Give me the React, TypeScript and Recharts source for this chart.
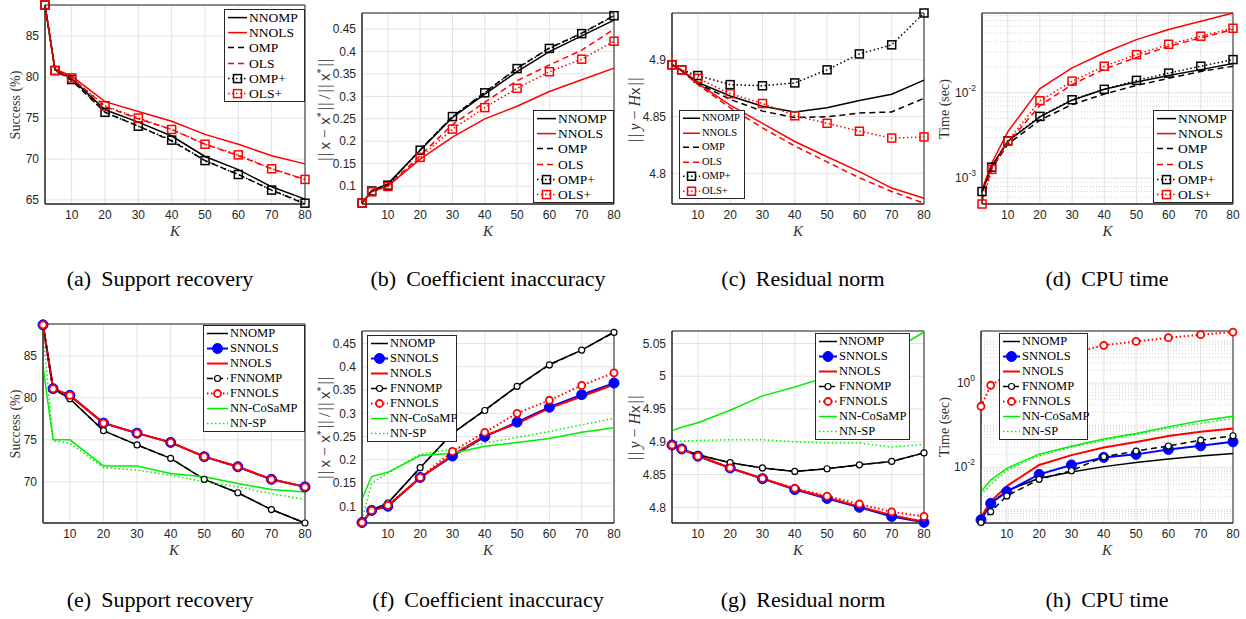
import React from 'react';
import { LineChart, Line, XAxis, YAxis, CartesianGrid, ReferenceLine, ReferenceArea } from 'recharts';

const SERIF = '"Liberation Serif", "Times New Roman", serif';
const SANS = '"Liberation Sans", Arial, sans-serif';
const AXIS = '#262626';
const GRID = '#e2e2e2';
const MINOR = '#d2d2d2';

const K = [2, 5, 10, 20, 30, 40, 50, 60, 70, 80];
const K_TICKS = [10, 20, 30, 40, 50, 60, 70, 80];

// ---- row 1: greedy variants ----
const succA: Record<string, number[]> = {
  NNOMP: [88.8, 80.9, 79.8, 76.0, 74.5, 72.8, 70.3, 68.7, 66.6, 65.1],
  NNOLS: [88.8, 81.0, 80.1, 77.0, 75.8, 74.6, 73.0, 71.8, 70.4, 69.4],
  OMP: [88.8, 80.8, 79.6, 75.7, 74.0, 72.2, 69.8, 68.1, 66.2, 64.5],
  OLS: [88.8, 80.8, 79.9, 76.4, 74.9, 73.6, 71.8, 70.4, 68.8, 67.5],
  OMPp: [88.8, 80.8, 79.7, 75.7, 74.0, 72.3, 69.8, 68.1, 66.2, 64.6],
  OLSp: [88.8, 80.8, 79.9, 76.5, 75.0, 73.6, 71.8, 70.5, 68.8, 67.5],
};
const errB: Record<string, number[]> = {
  NNOMP: [0.062, 0.09, 0.105, 0.18, 0.253, 0.305, 0.355, 0.4, 0.435, 0.47],
  NNOLS: [0.062, 0.088, 0.1, 0.16, 0.209, 0.25, 0.278, 0.311, 0.337, 0.363],
  OMP: [0.062, 0.09, 0.103, 0.181, 0.255, 0.309, 0.363, 0.408, 0.441, 0.48],
  OLS: [0.062, 0.088, 0.1, 0.168, 0.237, 0.287, 0.335, 0.37, 0.403, 0.45],
  OMPp: [0.062, 0.089, 0.102, 0.18, 0.255, 0.308, 0.362, 0.407, 0.44, 0.48],
  OLSp: [0.062, 0.087, 0.099, 0.164, 0.227, 0.275, 0.318, 0.355, 0.383, 0.423],
};
const resC: Record<string, number[]> = {
  NNOMP: [4.8955, 4.8906, 4.88, 4.868, 4.859, 4.854, 4.8576, 4.864, 4.8696, 4.882],
  NNOLS: [4.8955, 4.89, 4.879, 4.86, 4.844, 4.828, 4.8146, 4.8015, 4.787, 4.778],
  OMP: [4.8955, 4.89, 4.879, 4.865, 4.8547, 4.849, 4.8497, 4.853, 4.854, 4.866],
  OLS: [4.8955, 4.89, 4.878, 4.8576, 4.84, 4.824, 4.81, 4.796, 4.784, 4.7737],
  OMPp: [4.8955, 4.891, 4.886, 4.878, 4.877, 4.8795, 4.891, 4.905, 4.913, 4.941],
  OLSp: [4.8955, 4.891, 4.8836, 4.87, 4.8614, 4.8506, 4.844, 4.837, 4.831, 4.832],
};
const timeD: Record<string, number[]> = {
  NNOMP: [6.8e-4, 1.39e-3, 2.7e-3, 5.24e-3, 8.2e-3, 0.011, 0.0134, 0.016, 0.0187, 0.022],
  NNOLS: [7.3e-4, 1.5e-3, 3.5e-3, 0.0112, 0.0196, 0.0295, 0.042, 0.055, 0.069, 0.086],
  OMP: [7e-4, 1.3e-3, 2.5e-3, 4.8e-3, 7.3e-3, 9.7e-3, 0.0122, 0.0148, 0.0178, 0.0205],
  OLS: [5.5e-4, 1.3e-3, 2.6e-3, 7.1e-3, 0.0125, 0.019, 0.026, 0.035, 0.044, 0.055],
  OMPp: [7e-4, 1.35e-3, 2.75e-3, 5.3e-3, 8.3e-3, 0.011, 0.014, 0.017, 0.0205, 0.0245],
  OLSp: [5e-4, 1.27e-3, 2.73e-3, 8.07e-3, 0.0137, 0.0205, 0.028, 0.037, 0.046, 0.057],
};

// ---- row 2: NN solvers ----
const succE: Record<string, number[]> = {
  NNOMP: [88.7, 81.1, 79.9, 76.1, 74.4, 72.8, 70.3, 68.7, 66.7, 65.1],
  SNNOLS: [88.7, 81.1, 80.3, 77.0, 75.8, 74.7, 73.0, 71.8, 70.3, 69.4],
  NNOLS: [88.7, 81.1, 80.3, 77.0, 75.8, 74.7, 73.0, 71.8, 70.3, 69.4],
  FNNOMP: [88.7, 81.1, 79.9, 76.1, 74.4, 72.8, 70.3, 68.7, 66.7, 65.1],
  FNNOLS: [88.7, 81.1, 80.3, 77.0, 75.8, 74.7, 73.0, 71.8, 70.3, 69.4],
  CoSaMP: [83.7, 75.0, 75.0, 71.9, 71.9, 71.0, 70.6, 69.8, 69.1, 68.8],
  SP: [88.0, 74.9, 74.6, 71.7, 71.4, 70.8, 70.0, 69.4, 68.6, 67.9],
};
const errF: Record<string, number[]> = {
  NNOMP: [0.065, 0.091, 0.107, 0.183, 0.257, 0.307, 0.358, 0.405, 0.436, 0.475],
  SNNOLS: [0.065, 0.091, 0.1, 0.162, 0.208, 0.25, 0.281, 0.313, 0.34, 0.365],
  NNOLS: [0.065, 0.091, 0.101, 0.161, 0.21, 0.252, 0.278, 0.311, 0.336, 0.362],
  FNNOMP: [0.065, 0.092, 0.107, 0.183, 0.257, 0.306, 0.358, 0.404, 0.436, 0.474],
  FNNOLS: [0.065, 0.091, 0.102, 0.162, 0.218, 0.259, 0.3, 0.328, 0.36, 0.387],
  CoSaMP: [0.116, 0.164, 0.173, 0.209, 0.214, 0.229, 0.237, 0.246, 0.259, 0.269],
  SP: [0.071, 0.15, 0.171, 0.212, 0.223, 0.236, 0.248, 0.261, 0.275, 0.289],
};
const resG: Record<string, number[]> = {
  NNOMP: [4.895, 4.889, 4.88, 4.868, 4.86, 4.8547, 4.8588, 4.8648, 4.87, 4.883],
  SNNOLS: [4.895, 4.889, 4.878, 4.86, 4.8437, 4.827, 4.8135, 4.8, 4.786, 4.777],
  NNOLS: [4.895, 4.889, 4.879, 4.86, 4.844, 4.828, 4.815, 4.801, 4.788, 4.778],
  FNNOMP: [4.895, 4.889, 4.88, 4.868, 4.86, 4.8547, 4.8588, 4.8648, 4.87, 4.883],
  FNNOLS: [4.895, 4.889, 4.878, 4.86, 4.844, 4.829, 4.817, 4.805, 4.793, 4.786],
  CoSaMP: [4.917, 4.922, 4.929, 4.948, 4.97, 4.9835, 4.999, 5.015, 5.038, 5.0675],
  SP: [4.899, 4.901, 4.902, 4.903, 4.903, 4.9, 4.898, 4.898, 4.892, 4.896],
};
const timeH: Record<string, number[]> = {
  NNOMP: [5.5e-4, 1.4e-3, 2.8e-3, 5.5e-3, 7.8e-3, 0.0104, 0.0131, 0.0157, 0.0185, 0.0214],
  SNNOLS: [5.7e-4, 1.4e-3, 2.66e-3, 6.8e-3, 0.0114, 0.0172, 0.0203, 0.0266, 0.0324, 0.0404],
  NNOLS: [6.6e-4, 1.55e-3, 3.6e-3, 0.0114, 0.0195, 0.0296, 0.04, 0.055, 0.07, 0.083],
  FNNOMP: [4.9e-4, 8.9e-4, 2.1e-3, 5.2e-3, 8.3e-3, 0.0178, 0.0243, 0.032, 0.044, 0.056],
  FNNOLS: [0.28, 0.88, 1.5, 3.0, 5.0, 7.8, 9.6, 11.8, 13.9, 16.0],
  CoSaMP: [0.00266, 0.005, 0.0095, 0.0206, 0.0317, 0.0467, 0.0635, 0.091, 0.127, 0.163],
  SP: [0.0022, 0.004, 0.0085, 0.019, 0.03, 0.044, 0.06, 0.085, 0.11, 0.144],
};

const MINOR_D = [6e-4, 7e-4, 8e-4, 9e-4, 2e-3, 3e-3, 4e-3, 5e-3, 6e-3, 7e-3, 8e-3, 9e-3, 0.02, 0.03, 0.04, 0.05, 0.06, 0.07, 0.08];
const MINOR_H = [
  5e-4, 6e-4, 7e-4, 8e-4, 9e-4, 1e-3, 2e-3, 3e-3, 4e-3, 5e-3, 6e-3, 7e-3, 8e-3, 9e-3,
  0.02, 0.03, 0.04, 0.05, 0.06, 0.07, 0.08, 0.09, 0.1, 0.2, 0.3, 0.4, 0.5, 0.6, 0.7, 0.8, 0.9,
  2, 3, 4, 5, 6, 7, 8, 9, 10,
];

type Mark = 'square' | 'disc' | 'ring';
interface Style {
  id: string;
  label: string;
  color: string;
  width: number;
  dash?: string;
  marker?: Mark;
  r?: number;
  mw?: number;
}

const RED = '#ff0000';
const BLUE = '#0000ff';
const GREEN = '#00ee00';
const DASH = '6 4';
const DOT = '1.5 2.5';

const STYLES1: Style[] = [
  { id: 'NNOMP', label: 'NNOMP', color: '#000', width: 1.5 },
  { id: 'NNOLS', label: 'NNOLS', color: RED, width: 1.5 },
  { id: 'OMP', label: 'OMP', color: '#000', width: 1.5, dash: DASH },
  { id: 'OLS', label: 'OLS', color: RED, width: 1.5, dash: DASH },
  { id: 'OMPp', label: 'OMP+', color: '#000', width: 1.5, dash: DOT, marker: 'square' },
  { id: 'OLSp', label: 'OLS+', color: RED, width: 1.5, dash: DOT, marker: 'square' },
];
const STYLES2: Style[] = [
  { id: 'NNOMP', label: 'NNOMP', color: '#000', width: 1.5 },
  { id: 'SNNOLS', label: 'SNNOLS', color: BLUE, width: 2, marker: 'disc', r: 5 },
  { id: 'NNOLS', label: 'NNOLS', color: RED, width: 2 },
  { id: 'FNNOMP', label: 'FNNOMP', color: '#000', width: 1.5, dash: DASH, marker: 'ring', r: 3, mw: 1.2 },
  { id: 'FNNOLS', label: 'FNNOLS', color: RED, width: 2, dash: DOT, marker: 'ring', r: 3.5, mw: 1.8 },
  { id: 'CoSaMP', label: 'NN-CoSaMP', color: GREEN, width: 1.5 },
  { id: 'SP', label: 'NN-SP', color: GREEN, width: 1.5, dash: DOT },
];

const toRows = (set: Record<string, number[]>) =>
  K.map((k, i) => {
    const r: Record<string, number> = { K: k };
    Object.keys(set).forEach((n) => (r[n] = set[n][i]));
    return r;
  });

function Marker({ s, cx, cy }: { s: Style; cx: number; cy: number }) {
  if (s.marker === 'square')
    return <rect x={cx - 4} y={cy - 4} width={8} height={8} fill="none" stroke={s.color} strokeWidth={1.5} />;
  if (s.marker === 'disc') return <circle cx={cx} cy={cy} r={s.r} fill={s.color} stroke={s.color} />;
  if (s.marker === 'ring')
    return <circle cx={cx} cy={cy} r={s.r} fill="#fff" stroke={s.color} strokeWidth={s.mw} />;
  return null;
}

const dotFor = (s: Style) => {
  if (!s.marker) return false;
  return (p: any) => (
    <g key={`${s.id}-${p.index}`}>
      {p.cx != null && p.cy != null ? <Marker s={s} cx={p.cx} cy={p.cy} /> : null}
    </g>
  );
};

function LogTick(props: any) {
  const { x, y, payload } = props;
  const e = Math.round(Math.log10(payload.value));
  return (
    <text x={x} y={y} dy={4} textAnchor="end" fill={AXIS} fontSize={12} fontFamily={SANS}>
      10
      <tspan dy={-6} fontSize={8.5}>
        {e}
      </tspan>
    </text>
  );
}

interface LegendSpec {
  l: number;
  t: number;
  w: number;
  rowH: number;
  fs: number;
  tx: number;
}

function LegendBox({ spec, styles }: { spec: LegendSpec; styles: Style[] }) {
  const { l, t, w, rowH, fs, tx } = spec;
  return (
    <div
      style={{
        position: 'absolute', left: l, top: t, width: w, height: styles.length * rowH + 2,
        boxSizing: 'border-box', border: `1px solid ${AXIS}`, background: '#fff',
      }}
    >
      {styles.map((s) => (
        <div key={s.id} style={{ position: 'relative', height: rowH }}>
          <svg width={tx} height={rowH} style={{ position: 'absolute', left: 0, top: 0 }}>
            <line x1={3} x2={tx - 2} y1={rowH / 2} y2={rowH / 2} stroke={s.color}
              strokeWidth={s.width} strokeDasharray={s.dash} />
            <Marker s={s} cx={(tx + 1) / 2} cy={rowH / 2} />
          </svg>
          <span style={{
            position: 'absolute', left: tx, top: 0, lineHeight: `${rowH}px`, fontSize: fs,
            fontFamily: SERIF, color: '#000', whiteSpace: 'nowrap',
          }}>
            {s.label}
          </span>
        </div>
      ))}
    </div>
  );
}

interface PanelProps {
  plot: { l: number; t: number; r: number; b: number };
  set: Record<string, number[]>;
  styles: Style[];
  yDomain: [number, number];
  yTicks: number[];
  log?: boolean;
  minor?: number[];
  yLabel: React.ReactNode;
  yLabelX: number;
  legend: LegendSpec;
  caption: [string, string];
  captionX: number;
  captionY: number;
}

const YW = 50;
const MT = 8;
const MR = 8;
const XH = 26;

function Panel(p: PanelProps) {
  const { plot } = p;
  const w = plot.r - plot.l + YW + MR;
  const h = plot.b - plot.t + MT + XH;
  const data = toRows(p.set);
  const tickStyle = { fill: AXIS, fontSize: 12, fontFamily: SANS };
  return (
    <>
      <div style={{ position: 'absolute', left: plot.l - YW, top: plot.t - MT }}>
        <LineChart width={w} height={h} data={data} margin={{ top: MT, right: MR, bottom: 0, left: 0 }}>
          {p.minor?.map((v) => (
            <ReferenceLine key={v} y={v} stroke={MINOR} strokeDasharray="1 2" />
          ))}
          <CartesianGrid stroke={GRID} />
          <XAxis type="number" dataKey="K" domain={[2, 80]} ticks={K_TICKS} interval={0} height={XH}
            tickLine={false} tickSize={3} tickMargin={3} axisLine={{ stroke: AXIS }} tick={tickStyle} />
          <YAxis type="number" domain={p.yDomain} ticks={p.yTicks} interval={0} width={YW}
            scale={p.log ? 'log' : 'auto'} tickLine={false} tickSize={3} tickMargin={3}
            axisLine={{ stroke: AXIS }} tick={p.log ? (tp: any) => <LogTick {...tp} /> : tickStyle} />
          <ReferenceArea x1={2} x2={80} y1={p.yDomain[0]} y2={p.yDomain[1]} fill="none" fillOpacity={0}
            stroke={AXIS} strokeWidth={1} ifOverflow="visible" />
          {p.styles.map((s) => (
            <Line key={s.id} type="linear" dataKey={s.id} stroke={s.color} strokeWidth={s.width}
              strokeDasharray={s.dash} dot={dotFor(s)} activeDot={false} isAnimationActive={false} />
          ))}
        </LineChart>
      </div>
      <div style={{
        position: 'absolute', left: p.yLabelX, top: (plot.t + plot.b) / 2,
        transform: 'translate(-50%, -50%) rotate(-90deg)', whiteSpace: 'nowrap',
        fontFamily: SERIF, fontSize: 14, color: '#333',
      }}>
        {p.yLabel}
      </div>
      <div style={{
        position: 'absolute', left: (plot.l + plot.r) / 2, top: plot.b + 27,
        transform: 'translate(-50%, -50%)', fontFamily: SERIF, fontStyle: 'italic', fontSize: 15, color: '#333',
      }}>
        K
      </div>
      <LegendBox spec={p.legend} styles={p.styles} />
      <div style={{
        position: 'absolute', left: p.captionX, top: p.captionY, transform: 'translate(-50%, -50%)',
        whiteSpace: 'nowrap', fontFamily: SERIF, fontSize: 22, color: '#000', lineHeight: 1,
      }}>
        <span style={{ marginRight: 10 }}>{p.caption[0]}</span>
        {p.caption[1]}
      </div>
    </>
  );
}

// norm bars and bold-ish sans x, as in the LaTeX labels
const xs = <span style={{ fontFamily: SANS, fontSize: 15 }}>x</span>;
const bars = <span style={{ letterSpacing: 1.5, margin: '0 2px' }}>||</span>;
const star = <sup style={{ fontSize: 10 }}>*</sup>;
const ERR_LABEL = (
  <span style={{ fontSize: 16 }}>
    {bars}{xs}&nbsp;−&nbsp;{xs}{star}{bars}/{bars}{xs}{star}{bars}
  </span>
);
const RES_LABEL = (
  <span style={{ fontSize: 16 }}>
    {bars}<i>y</i>&nbsp;−&nbsp;<i>H</i>{xs}{bars}
  </span>
);

const ROW1_LEG = { rowH: 15.2, fs: 13.5, tx: 24 };
const ROW2_LEG = { rowH: 15, fs: 12.5, tx: 24 };

export default function App() {
  return (
    <div style={{ position: 'absolute', left: 0, top: 0, width: 1246, height: 619, background: '#fff', overflow: 'hidden' }}>
      <Panel plot={{ l: 45, t: 5, r: 305, b: 204 }} set={succA} styles={STYLES1}
        yDomain={[64.5, 88.8]} yTicks={[65, 70, 75, 80, 85]} yLabel="Success (%)" yLabelX={16}
        legend={{ l: 224, t: 9, w: 81, ...ROW1_LEG }} caption={['(a)', 'Support recovery']} captionX={160} captionY={279} />
      <Panel plot={{ l: 362, t: 13, r: 614, b: 204 }} set={errB} styles={STYLES1}
        yDomain={[0.06, 0.486]} yTicks={[0.1, 0.15, 0.2, 0.25, 0.3, 0.35, 0.4, 0.45]} yLabel={ERR_LABEL} yLabelX={325}
        legend={{ l: 533, t: 110, w: 81, ...ROW1_LEG }} caption={['(b)', 'Coefficient inaccuracy']} captionX={488} captionY={279} />
      <Panel plot={{ l: 672, t: 13, r: 924, b: 204 }} set={resC} styles={STYLES1}
        yDomain={[4.773, 4.941]} yTicks={[4.8, 4.85, 4.9]} yLabel={RES_LABEL} yLabelX={635}
        legend={{ l: 679, t: 110, w: 66, rowH: 14.5, fs: 10.5, tx: 22 }} caption={['(c)', 'Residual norm']} captionX={803} captionY={279} />
      <Panel plot={{ l: 982, t: 13, r: 1233, b: 204 }} set={timeD} styles={STYLES1}
        yDomain={[5e-4, 0.086]} yTicks={[1e-3, 1e-2]} log minor={MINOR_D} yLabel="Time (sec)" yLabelX={945}
        legend={{ l: 1153, t: 110, w: 80, ...ROW1_LEG }} caption={['(d)', 'CPU time']} captionX={1107} captionY={279} />

      <Panel plot={{ l: 43, t: 324, r: 305, b: 523 }} set={succE} styles={STYLES2}
        yDomain={[65.1, 88.8]} yTicks={[70, 75, 80, 85]} yLabel="Success (%)" yLabelX={16}
        legend={{ l: 203, t: 325, w: 102, ...ROW2_LEG, tx: 26 }} caption={['(e)', 'Support recovery']} captionX={160} captionY={600} />
      <Panel plot={{ l: 362, t: 331, r: 614, b: 523 }} set={errF} styles={STYLES2}
        yDomain={[0.064, 0.477]} yTicks={[0.1, 0.15, 0.2, 0.25, 0.3, 0.35, 0.4, 0.45]} yLabel={ERR_LABEL} yLabelX={325}
        legend={{ l: 367, t: 335, w: 90, ...ROW2_LEG, tx: 22 }} caption={['(f)', 'Coefficient inaccuracy']} captionX={488} captionY={600} />
      <Panel plot={{ l: 672, t: 331, r: 924, b: 523 }} set={resG} styles={STYLES2}
        yDomain={[4.776, 5.069]} yTicks={[4.8, 4.85, 4.9, 4.95, 5, 5.05]} yLabel={RES_LABEL} yLabelX={635}
        legend={{ l: 815, t: 333, w: 95, ...ROW2_LEG, tx: 23 }} caption={['(g)', 'Residual norm']} captionX={803} captionY={600} />
      <Panel plot={{ l: 981, t: 331, r: 1233, b: 523 }} set={timeH} styles={STYLES2}
        yDomain={[4.8e-4, 17]} yTicks={[1e-2, 1]} log minor={MINOR_H} yLabel="Time (sec)" yLabelX={945}
        legend={{ l: 999, t: 333, w: 89, ...ROW2_LEG, tx: 22 }} caption={['(h)', 'CPU time']} captionX={1107} captionY={600} />
    </div>
  );
}
